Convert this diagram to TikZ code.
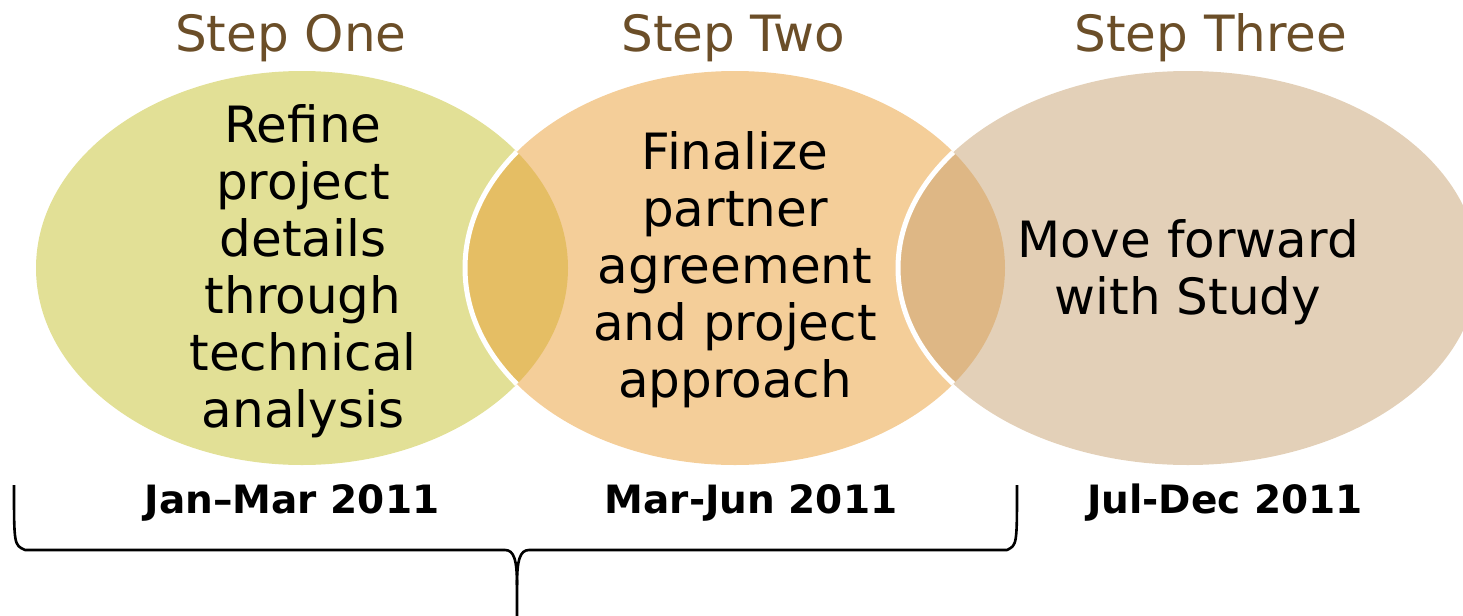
\documentclass[tikz,border=0pt]{standalone}
\usepackage{fontspec}
\setmainfont{DejaVu Sans}
\usepackage{tikz}
\usetikzlibrary{shapes,positioning}
\definecolor{stepone}{RGB}{197,193,45}
\definecolor{steptwo}{RGB}{233,157,52}
\definecolor{stepthree}{RGB}{200,162,114}
\definecolor{headbrown}{RGB}{107,78,40}

\begin{document}
\begin{tikzpicture}[x=0.5pt,y=-0.5pt]
\tikzstyle{bubble}=[ellipse,draw=none,inner sep=0pt,minimum height=197pt,fill opacity=0.5]
\tikzstyle{rim}=[draw=white,line width=2.5pt]
\tikzstyle{head}=[text=headbrown,font=\fontsize{25}{29}\selectfont]
\tikzstyle{body}=[align=center,font=\fontsize{25}{28.5}\selectfont]
\tikzstyle{when}=[font=\fontsize{19.5}{23}\selectfont\bfseries]
\tikzstyle{brace}=[line width=1.3pt,line join=round]
\useasboundingbox (0,0) rectangle (1463,616);
% the three bubbles
\node [bubble,fill=stepone,minimum width=266pt] at (302,268) (s1) {};
\node [bubble,fill=steptwo,minimum width=270pt] at (735,268) (s2) {};
\begin{scope}
\clip (s1.center) ellipse [x radius=133pt,y radius=98.5pt];
\draw [rim] (s2.center) ellipse [x radius=135pt,y radius=98.5pt];
\end{scope}
\node [bubble,fill=stepthree,minimum width=290pt] at (1188,268) (s3) {};
\begin{scope}
\clip (s2.center) ellipse [x radius=135pt,y radius=98.5pt];
\draw [rim] (s3.center) ellipse [x radius=145pt,y radius=98.5pt];
\end{scope}
% headings
\node [head] at (291,38) (h1) {Step One};
\node [head] at (733,38) (h2) {Step Two};
\node [head] at (1211,38) (h3) {Step Three};
% texts
\node [body] at (303,271) (t1) {Refine\\project\\details\\through\\technical\\analysis};
\node [body] at (735,270) (t2) {Finalize\\partner\\agreement\\and project\\approach};
\node [body] at (1188,272) (t3) {Move forward\\with Study};
% dates
\node [when] at (292,503) (d1) {Jan–Mar 2011};
\node [when] at (751,503) (d2) {Mar-Jun 2011};
\node [when] at (1225,503) (d3) {Jul-Dec 2011};
% brace under the first two steps
\coordinate (bl) at (14,485);
\coordinate (br) at (1017,485);
\coordinate (bt) at (517,585);
\coordinate (bb) at (517,616);
\draw [brace] (bl) .. controls (14,545) .. (25,550) -- (505,550)
  .. controls (514,550) and (517,560) .. (bt) -- (bb);
\draw [brace] (bt) .. controls (517,560) and (520,550) .. (529,550)
  -- (1007,550) .. controls (1017,545) .. (br);
\end{tikzpicture}
\end{document}
